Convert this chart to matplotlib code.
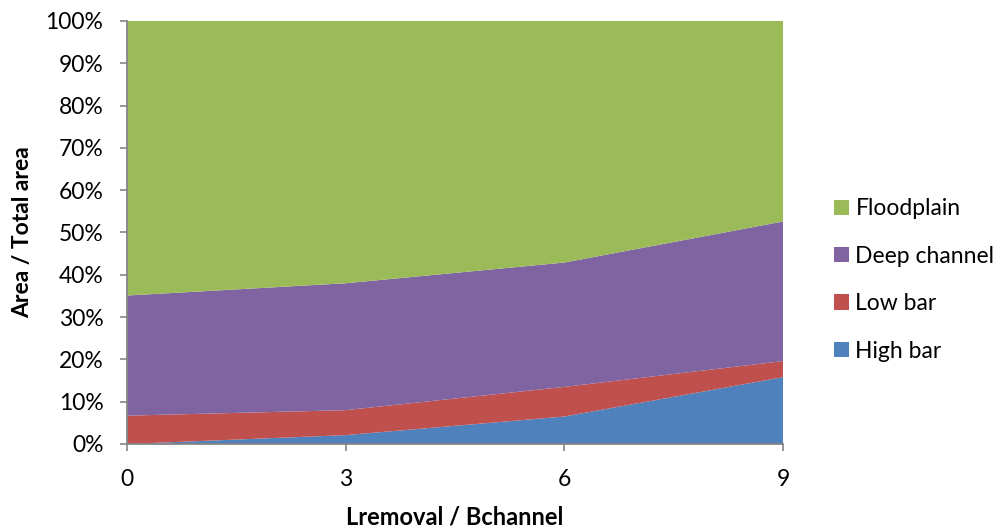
import matplotlib
matplotlib.use("Agg")
import matplotlib.pyplot as plt
from matplotlib.patches import Patch
from matplotlib.ticker import FuncFormatter

x_values = [0, 3, 6, 9]
high_bar = [0.0, 2.1, 6.5, 15.8]
low_bar = [6.7, 5.9, 7.0, 3.8]
deep_channel = [28.4, 30.0, 29.4, 33.0]
floodplain = [64.9, 62.0, 57.1, 47.4]
series_names = ["High bar", "Low bar", "Deep channel", "Floodplain"]
colors = ["#4F81BD", "#C0504D", "#8064A2", "#9BBB59"]

plt.rcParams['font.family'] = ['Lato', 'DejaVu Sans']

fig = plt.figure(figsize=(10.05, 5.32), dpi=100)
ax = fig.add_axes([127/1005, 88/532, 656/1005, 423/532])

ax.stackplot(x_values, high_bar, low_bar, deep_channel, floodplain,
             colors=colors, linewidth=0)

ax.set_xlim(0, 9)
ax.set_ylim(0, 100)
ax.set_xticks(x_values)
ax.set_yticks(range(0, 101, 10))
ax.yaxis.set_major_formatter(FuncFormatter(lambda v, p: f"{int(v)}%"))

for s in ["top", "right"]:
    ax.spines[s].set_visible(False)
for s in ["left", "bottom"]:
    ax.spines[s].set_color("#868686")
    ax.spines[s].set_linewidth(1.3)

ax.tick_params(axis='y', direction='out', length=5, width=1.2, color="#868686",
               labelsize=16.5, pad=12)
ax.tick_params(axis='x', direction='out', length=5, width=1.2, color="#868686",
               labelsize=16.5, pad=13)

ax.set_xlabel("Lremoval / Bchannel", fontsize=17, fontweight='bold', labelpad=11)
ax.set_ylabel("Area / Total area", fontsize=16.5, fontweight='bold', labelpad=9)

handles = [Patch(facecolor=c, edgecolor='none') for c in colors]
leg = fig.legend(handles[::-1], series_names[::-1], loc='center left',
                 bbox_to_anchor=(813/1005, 1 - 280/532), frameon=False,
                 fontsize=16.5, handlelength=0.65, handleheight=0.65,
                 handletextpad=0.3, labelspacing=1.15)

fig.savefig("out.png", dpi=100)
